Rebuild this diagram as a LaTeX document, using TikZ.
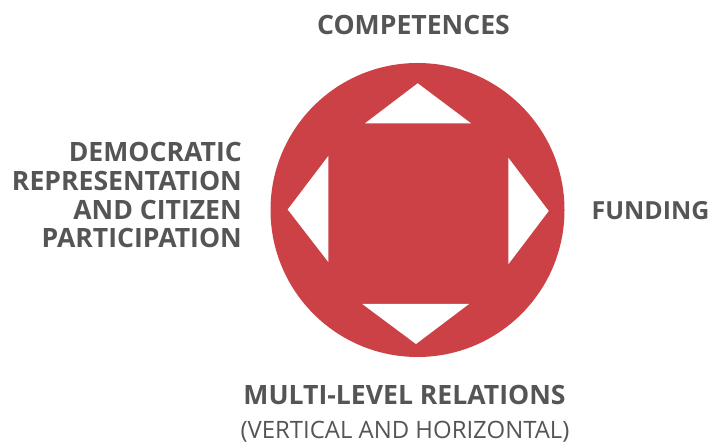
\documentclass[tikz,border=0pt]{standalone}
\usepackage{fontspec}
\setmainfont{Open Sans}
\definecolor{hubred}{RGB}{204,65,70}
\definecolor{labelgrey}{RGB}{85,85,85}
\tikzset{
	label/.style={text=labelgrey,font=\fontsize{26.7}{29}\selectfont\bfseries,inner sep=0pt},
	sublabel/.style={text=labelgrey,font=\fontsize{24}{29}\selectfont,inner sep=0pt},
	arrowhead/.style={fill=white,draw=none}
}

\begin{document}
\begin{tikzpicture}[x=1bp,y=-1bp]
\useasboundingbox (0,0) rectangle (715,444);

% HUB
\fill[hubred] (417.5,210) circle (147);

% TRIANGLES
\fill[arrowhead] (417.7,83.3) -- (471,123.3) -- (365,123.3) -- cycle;
\fill[arrowhead] (416,344) -- (469,304) -- (362.3,304) -- cycle;
\fill[arrowhead] (287.7,209.5) -- (328.3,156) -- (328.3,262) -- cycle;
\fill[arrowhead] (548.7,211) -- (508.3,157.7) -- (508.3,264.3) -- cycle;

% LABELS
\node[label,anchor=base] (competences) at (413.5,35) {COMPETENCES};
\node[label,font=\fontsize{25}{29}\selectfont\bfseries,anchor=base west] (funding) at (591.5,220) {FUNDING};
\node[label,anchor=base east,align=right] (democratic) at (242,248)
	{DEMOCRATIC\\REPRESENTATION\\AND CITIZEN\\PARTICIPATION};
\node[label,anchor=base] (multilevel) at (404.5,404) {MULTI-LEVEL RELATIONS};
\node[sublabel,anchor=base] (vertical) at (405,438) {(VERTICAL AND HORIZONTAL)};

\end{tikzpicture}
\end{document}
